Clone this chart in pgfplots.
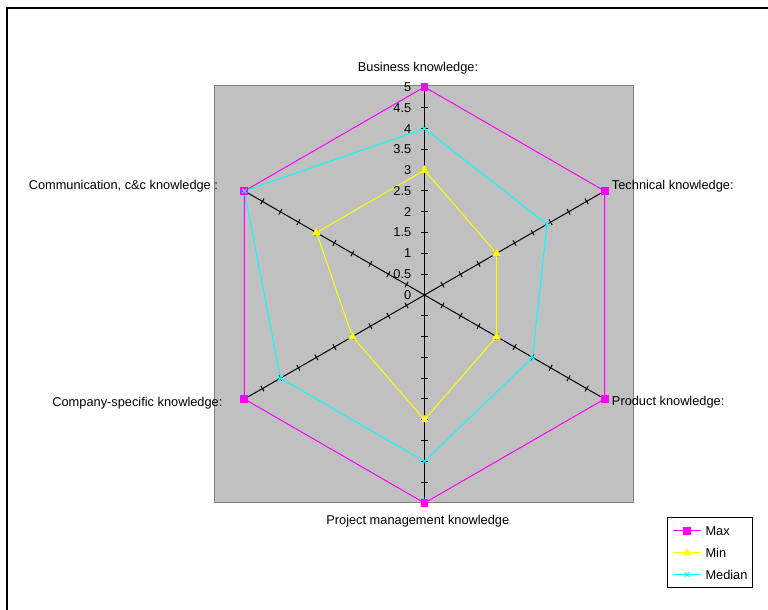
\documentclass[border=0pt]{standalone}
\usepackage{pgfplots}
\pgfplotsset{compat=1.18}
\usepackage{fontspec}
\setmainfont{Liberation Sans}
\definecolor{plotgray}{HTML}{C0C0C0}
\definecolor{bordergray}{HTML}{808080}
\definecolor{cmax}{HTML}{FF00FF}
\definecolor{cmin}{HTML}{FFFF00}
\definecolor{cmed}{HTML}{00FFFF}
\begin{document}
\fontsize{9.6}{11.5}\selectfont
\begin{tikzpicture}[x=0.75pt,y=0.75pt]
\useasboundingbox (0,0) rectangle (768,610);
\draw[black, line width=1.2pt] (7,0) -- (7,602) -- (768,602);
\begin{axis}[
  at={(161.25pt,80.25pt)}, anchor=south west,
  x=31.2pt, y=31.2pt,
  xmin=-5.036, xmax=5.036, ymin=-5.0, ymax=5.04,
  axis background/.style={fill=plotgray},
  axis line style={draw=bordergray, line width=0.75pt},
  xtick=\empty, ytick=\empty,
  clip=false,
  legend style={at={(1.0788,-0.0335)}, anchor=north west, draw=black, line width=0.75pt, fill=white,
    inner xsep=3.75pt, inner ysep=6.5pt, row sep=9.4pt, column sep=3pt,
    nodes={inner sep=0pt, text height=7pt, text depth=0pt},
    column 2/.style={text width=34.5pt, align=left}},
  legend cell align=left,
  legend image code/.code={\draw[mark repeat=2,mark phase=2,#1] plot coordinates {(0pt,0pt) (10.5pt,0pt) (21pt,0pt)};},
]
% spokes with tick marks
\addplot[black, line width=0.75pt, data cs=polar, mark=|, mark size=2.4pt, mark phase=2, mark options={rotate=90}, forget plot]
  coordinates {(90,0) (90,0.5) (90,1) (90,1.5) (90,2) (90,2.5) (90,3) (90,3.5) (90,4) (90,4.5) (90,5)};
\addplot[black, line width=0.75pt, data cs=polar, mark=|, mark size=2.4pt, mark phase=2, mark options={rotate=30}, forget plot]
  coordinates {(30,0) (30,0.5) (30,1) (30,1.5) (30,2) (30,2.5) (30,3) (30,3.5) (30,4) (30,4.5) (30,5)};
\addplot[black, line width=0.75pt, data cs=polar, mark=|, mark size=2.4pt, mark phase=2, mark options={rotate=-30}, forget plot]
  coordinates {(-30,0) (-30,0.5) (-30,1) (-30,1.5) (-30,2) (-30,2.5) (-30,3) (-30,3.5) (-30,4) (-30,4.5) (-30,5)};
\addplot[black, line width=0.75pt, data cs=polar, mark=|, mark size=2.4pt, mark phase=2, mark options={rotate=-90}, forget plot]
  coordinates {(-90,0) (-90,0.5) (-90,1) (-90,1.5) (-90,2) (-90,2.5) (-90,3) (-90,3.5) (-90,4) (-90,4.5) (-90,5)};
\addplot[black, line width=0.75pt, data cs=polar, mark=|, mark size=2.4pt, mark phase=2, mark options={rotate=-150}, forget plot]
  coordinates {(-150,0) (-150,0.5) (-150,1) (-150,1.5) (-150,2) (-150,2.5) (-150,3) (-150,3.5) (-150,4) (-150,4.5) (-150,5)};
\addplot[black, line width=0.75pt, data cs=polar, mark=|, mark size=2.4pt, mark phase=2, mark options={rotate=150}, forget plot]
  coordinates {(150,0) (150,0.5) (150,1) (150,1.5) (150,2) (150,2.5) (150,3) (150,3.5) (150,4) (150,4.5) (150,5)};
% data: Business, Technical, Product, Project mgmt, Company-specific, Communication
\addplot[cmax, line width=0.75pt, data cs=polar, mark=square*, mark size=2.6pt, mark options={fill=cmax, draw=cmax}]
  coordinates {(90,5) (30,5) (-30,5) (-90,5) (-150,5) (150,5) (90,5)};
\addlegendentry{Max}
\addplot[cmin, line width=0.75pt, data cs=polar, mark=triangle*, mark size=2.8pt, mark options={fill=cmin, draw=cmin}]
  coordinates {(90,3) (30,2) (-30,2) (-90,3) (-150,2) (150,3) (90,3)};
\addlegendentry{Min}
\addplot[cmed, line width=0.75pt, data cs=polar, mark=x, mark size=2.4pt, mark options={draw=cmed}]
  coordinates {(90,4) (30,3.4) (-30,3) (-90,4) (-150,4) (150,5) (90,4)};
\addlegendentry{Median}
% radial scale labels
\node[anchor=east, inner sep=0pt] at (axis cs:-0.3125,0) {0};
\node[anchor=east, inner sep=0pt] at (axis cs:-0.3125,0.5) {0.5};
\node[anchor=east, inner sep=0pt] at (axis cs:-0.3125,1) {1};
\node[anchor=east, inner sep=0pt] at (axis cs:-0.3125,1.5) {1.5};
\node[anchor=east, inner sep=0pt] at (axis cs:-0.3125,2) {2};
\node[anchor=east, inner sep=0pt] at (axis cs:-0.3125,2.5) {2.5};
\node[anchor=east, inner sep=0pt] at (axis cs:-0.3125,3) {3};
\node[anchor=east, inner sep=0pt] at (axis cs:-0.3125,3.5) {3.5};
\node[anchor=east, inner sep=0pt] at (axis cs:-0.3125,4) {4};
\node[anchor=east, inner sep=0pt] at (axis cs:-0.3125,4.5) {4.5};
\node[anchor=east, inner sep=0pt] at (axis cs:-0.3125,5) {5};
% category labels
\node[anchor=base, inner sep=0pt] at (axis cs:-0.156,5.373) {Business knowledge:};
\node[anchor=base west, inner sep=0pt] at (axis cs:4.5,2.548) {Technical knowledge:};
\node[anchor=base west, inner sep=0pt] at (axis cs:4.5,-2.668) {Product knowledge:};
\node[anchor=base, inner sep=0pt] at (axis cs:-0.161,-5.512) {Project management knowledge};
\node[anchor=base east, inner sep=0pt] at (axis cs:-4.851,-2.685) {Company-specific knowledge:};
\node[anchor=base east, inner sep=0pt] at (axis cs:-4.957,2.548) {Communication, c\&c knowledge :};
\end{axis}
\end{tikzpicture}
\end{document}
